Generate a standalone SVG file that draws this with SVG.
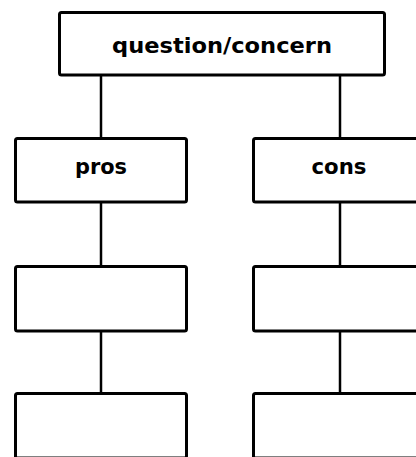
<svg xmlns="http://www.w3.org/2000/svg" width="416" height="457" viewBox="0 0 416 457">
<style>
.box{fill:#fff;stroke:#000;stroke-width:3;}
.conn{stroke:#000;stroke-width:2.5;fill:none;}
.lbl{font-family:"DejaVu Sans",sans-serif;font-weight:bold;font-size:22px;fill:#000;text-anchor:middle;}
</style>
<rect width="416" height="457" fill="#fff"/>
<g id="connectors">
<line class="conn" x1="101" y1="75" x2="101" y2="138"/>
<line class="conn" x1="340" y1="75" x2="340" y2="138"/>
<line class="conn" x1="101" y1="202" x2="101" y2="266"/>
<line class="conn" x1="340" y1="202" x2="340" y2="266"/>
<line class="conn" x1="101" y1="331" x2="101" y2="393"/>
<line class="conn" x1="340" y1="331" x2="340" y2="393"/>
</g>
<g id="question">
<rect class="box" x="59.5" y="12.5" width="325" height="62.5" rx="2"/>
<text class="lbl" x="222" y="53" textLength="220" lengthAdjust="spacingAndGlyphs">question/concern</text>
</g>
<g id="pros">
<rect class="box" x="15.5" y="138.5" width="171" height="63.5" rx="2"/>
<text class="lbl" x="101" y="174" textLength="52" lengthAdjust="spacingAndGlyphs">pros</text>
</g>
<g id="cons">
<rect class="box" x="253.5" y="138.5" width="172" height="63.5" rx="2"/>
<text class="lbl" x="339" y="174" textLength="55" lengthAdjust="spacingAndGlyphs">cons</text>
</g>
<g id="pros2">
<rect class="box" x="15.5" y="266.5" width="171" height="64.5" rx="2"/>
</g>
<g id="cons2">
<rect class="box" x="253.5" y="266.5" width="172" height="64.5" rx="2"/>
</g>
<g id="pros3">
<rect class="box" x="15.5" y="393.5" width="171" height="64.5" rx="2"/>
</g>
<g id="cons3">
<rect class="box" x="253.5" y="393.5" width="172" height="64.5" rx="2"/>
</g>
</svg>
